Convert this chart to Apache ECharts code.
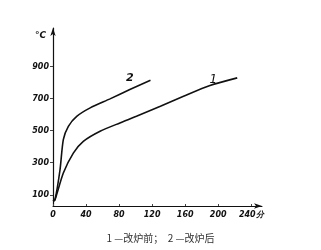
<!DOCTYPE html>
<html><head><meta charset="utf-8">
<script src="https://cdn.jsdelivr.net/npm/echarts@6/dist/echarts.min.js"></script>
<style>html,body{margin:0;padding:0;background:#fff}#c{width:321px;height:250px}</style>
</head><body><div id="c"></div>
<script>
const xTicks = [0, 40, 80, 120, 160, 200, 240];
const yTicks = [100, 300, 500, 700, 900];
const curve1X = [0, 2.4, 12.5, 24.6, 36.7, 57, 81, 101, 130, 158, 190, 223];
const curve1Y = [60, 69, 236, 360, 433, 496, 548, 589, 652, 714, 781, 829];
const curve2X = [0, 2.4, 8.5, 12.5, 18.6, 28.7, 45, 69, 93, 118];
const curve2Y = [60, 69, 256, 444, 527, 589, 642, 698, 756, 814];
const curveNames = ['1', '2'];
const caption = '1 —改炉前；  2 —改炉后';

const zip = (xs, ys) => xs.map((x, i) => [x, ys[i]]);
const chart = echarts.init(document.getElementById('c'));
const lab = {fontFamily: 'DejaVu Sans', fontStyle: 'italic', fontWeight: 'bold', fontSize: 8, color: '#111'};
chart.setOption({
  animation: false,
  grid: {left: 53, right: 59, top: 28, bottom: 44},
  xAxis: {
    type: 'value', min: 0, max: 253,
    axisLine: {lineStyle: {color: '#111', width: 1}, symbol: ['none', 'arrow'], symbolSize: [4, 8]},
    axisTick: {customValues: xTicks, inside: true, length: 2, lineStyle: {color: '#444'}},
    axisLabel: Object.assign({customValues: xTicks, margin: 5,
      formatter: v => v === 240 ? '240分' : String(v)}, lab),
    splitLine: {show: false}
  },
  yAxis: {
    type: 'value', min: 30, max: 1140,
    axisLine: {show: true, lineStyle: {color: '#111', width: 1.2}, symbol: ['none', 'arrow'], symbolSize: [4, 8]},
    axisTick: {customValues: yTicks, length: 3, lineStyle: {color: '#444'}},
    axisLabel: Object.assign({customValues: yTicks, margin: 4}, lab),
    splitLine: {show: false}
  },
  series: [
    {type: 'line', data: zip(curve1X, curve1Y), smooth: 0.25, symbol: 'none',
     lineStyle: {color: '#111', width: 1.6},
     markPoint: {symbol: 'circle', symbolSize: 0, data: [{coord: [194, 819], label: {show: true, formatter: curveNames[0], color: '#111', fontSize: 12, fontStyle: 'italic', fontFamily: 'DejaVu Sans'}}]}},
    {type: 'line', data: zip(curve2X, curve2Y), smooth: 0.25, symbol: 'none',
     lineStyle: {color: '#111', width: 1.6},
     markPoint: {symbol: 'circle', symbolSize: 0, data: [{coord: [93, 825], label: {show: true, formatter: curveNames[1], color: '#111', fontSize: 11, fontStyle: 'italic', fontWeight: 'bold', fontFamily: 'DejaVu Sans'}}]}}
  ],
  graphic: [
    {type: 'text', left: 35, top: 31, style: {text: '°C', font: 'bold italic 9px DejaVu Sans', fill: '#111'}},
    {type: 'text', left: 'center', top: 233, style: {text: caption, font: '10px "Noto Sans CJK SC"', fill: '#333'}}
  ]
});
</script></body></html>
